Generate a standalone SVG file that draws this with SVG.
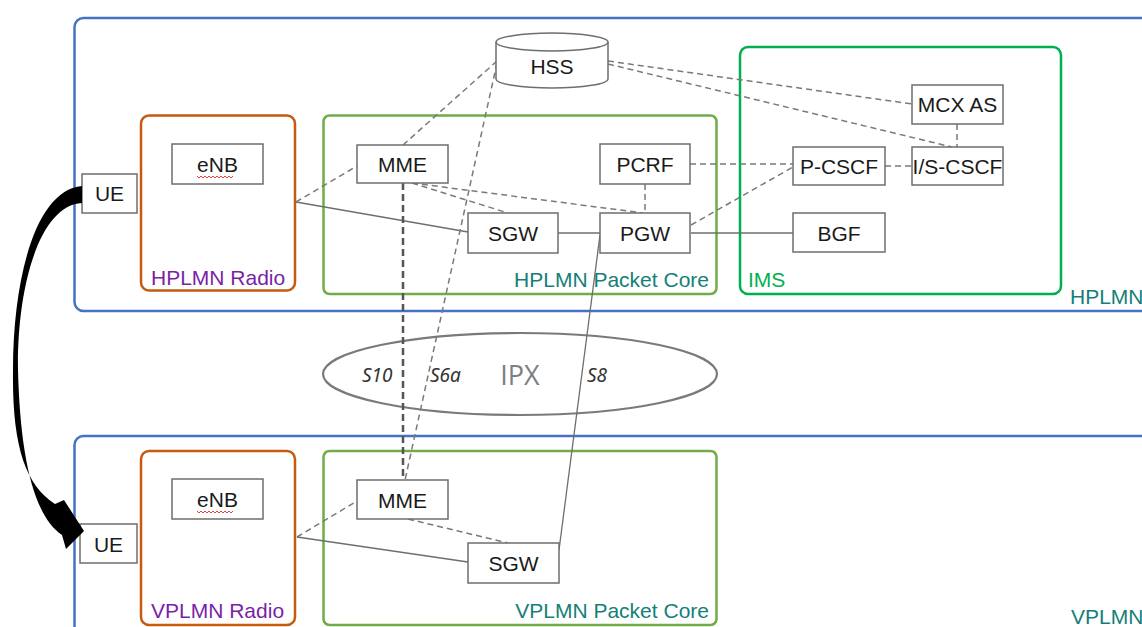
<svg xmlns="http://www.w3.org/2000/svg" width="1142" height="627" viewBox="0 0 1142 627">
<defs>
<style>
.plmn{fill:none;stroke:#4472C4;stroke-width:2.5}
.radio{fill:none;stroke:#C55A11;stroke-width:2.5}
.core{fill:none;stroke:#70AD47;stroke-width:2.5}
.ims{fill:none;stroke:#00B050;stroke-width:2.5}
.box{fill:#fff;stroke:#6e6e6e;stroke-width:1.5}
.t{font-family:"Liberation Sans",Arial,sans-serif;font-size:21px;fill:#1a1a1a;text-anchor:middle}
.gl{font-family:"Liberation Sans",Arial,sans-serif;font-size:21px}
.teal{fill:#148078}
.purple{fill:#7A1FA8}
.itf{font-family:"Noto Sans","Open Sans",sans-serif;font-style:italic;font-size:19px;fill:#333}
.solid{fill:none;stroke:#6e6e6e;stroke-width:1.3}
.dash{fill:none;stroke:#7a7a7a;stroke-width:1.5;stroke-dasharray:6 4}
.dashk{fill:none;stroke:#555;stroke-width:2.5;stroke-dasharray:7 4}
.sq{fill:none;stroke:#E84040;stroke-width:1}
</style>
</defs>
<rect width="1142" height="627" fill="#fff"/>

<g id="hplmn">
<rect class="plmn" x="74.5" y="18" width="1100" height="293" rx="9"/>
<text class="gl teal" x="1070" y="304">HPLMN</text>
</g>
<g id="vplmn">
<rect class="plmn" x="74.5" y="436" width="1100" height="260" rx="9"/>
<text class="gl teal" x="1071" y="624">VPLMN</text>
</g>

<g id="ipx">
<ellipse cx="520" cy="374" rx="197" ry="41" fill="none" stroke="#7a7a7a" stroke-width="2.2"/>
<text x="520" y="385" font-family="'Open Sans','Liberation Sans',sans-serif" font-size="27" fill="#7f7f7f" text-anchor="middle">IPX</text>
</g>

<g id="hplmn-radio">
<rect class="radio" x="141" y="115.5" width="154" height="175" rx="8"/>
<text class="gl purple" x="151" y="285">HPLMN Radio</text>
</g>
<g id="hplmn-core">
<rect class="core" x="323.5" y="115.5" width="393" height="178.5" rx="6"/>
<text class="gl teal" x="709" y="287" text-anchor="end">HPLMN Packet Core</text>
</g>
<g id="ims">
<rect class="ims" x="740" y="47" width="321" height="247" rx="8"/>
<text class="gl" x="748" y="287" fill="#00B050">IMS</text>
</g>
<g id="vplmn-radio">
<rect class="radio" x="141" y="451" width="154" height="174" rx="8"/>
<text class="gl purple" x="151" y="618">VPLMN Radio</text>
</g>
<g id="vplmn-core">
<rect class="core" x="323.5" y="451" width="393" height="174" rx="6"/>
<text class="gl teal" x="709" y="618" text-anchor="end">VPLMN Packet Core</text>
</g>

<g id="connectors">
<!-- HPLMN -->
<line class="solid" x1="296" y1="202" x2="468" y2="232"/>
<line class="dash" x1="296" y1="202" x2="357" y2="166"/>
<line class="dash" x1="403" y1="145" x2="497" y2="61"/>
<line class="dashk" x1="403" y1="183" x2="403" y2="480"/>
<line class="dash" x1="412" y1="183" x2="508" y2="213"/>
<line class="dash" x1="412" y1="183" x2="643" y2="213"/>
<line class="solid" x1="558" y1="233" x2="600" y2="233"/>
<line class="dash" x1="645" y1="184" x2="645" y2="213"/>
<line class="dash" x1="690" y1="164" x2="793" y2="164"/>
<line class="dash" x1="691" y1="225" x2="793" y2="167"/>
<line class="solid" x1="691" y1="233" x2="793" y2="233"/>
<line class="dash" x1="608" y1="61" x2="912" y2="104"/>
<line class="dash" x1="608" y1="64" x2="952" y2="147"/>
<line class="dash" x1="957" y1="124" x2="957" y2="147"/>
<line class="dash" x1="885" y1="166" x2="912" y2="166"/>
<!-- inter-PLMN -->
<line class="dash" x1="497" y1="63" x2="405" y2="480"/>
<line class="solid" x1="600" y1="235" x2="559" y2="550"/>
<!-- VPLMN -->
<line class="dash" x1="297" y1="537" x2="357" y2="501"/>
<line class="solid" x1="297" y1="537" x2="468" y2="562"/>
<line class="dash" x1="408" y1="519" x2="508" y2="543"/>
</g>

<g id="labels">
<text class="itf" x="362" y="382">S10</text>
<text class="itf" x="430" y="382">S6a</text>
<text class="itf" x="587" y="382">S8</text>
</g>

<g id="hss">
<path d="M496,42 L496,79 A56,9 0 0 0 608,79 L608,42" fill="#fff" stroke="#6e6e6e" stroke-width="1.5"/>
<ellipse cx="552" cy="42" rx="56" ry="9" fill="#fff" stroke="#6e6e6e" stroke-width="1.5"/>
<text class="t" x="552" y="74">HSS</text>
</g>

<g id="ue-h"><rect class="box" x="82" y="174" width="55" height="39"/><text class="t" x="109.5" y="201">UE</text></g>
<g id="enb-h"><rect class="box" x="172" y="144" width="91" height="40"/><text class="t" x="217.5" y="172">eNB</text><path class="sq" d="M197,176 l2,2 l2,-2 l2,2 l2,-2 l2,2 l2,-2 l2,2 l2,-2 l2,2 l2,-2 l2,2 l2,-2 l2,2 l2,-2 l2,2 l2,-2 l2,2 l2,-2"/></g>
<g id="mme-h"><rect class="box" x="357" y="145" width="91" height="38"/><text class="t" x="402.5" y="172">MME</text></g>
<g id="sgw-h"><rect class="box" x="468" y="213" width="90" height="40"/><text class="t" x="513" y="241">SGW</text></g>
<g id="pgw-h"><rect class="box" x="600" y="213" width="90" height="40"/><text class="t" x="645" y="241">PGW</text></g>
<g id="pcrf"><rect class="box" x="600" y="144" width="90" height="40"/><text class="t" x="645" y="172">PCRF</text></g>
<g id="pcscf"><rect class="box" x="793" y="147" width="92" height="38"/><text class="t" x="839" y="174">P-CSCF</text></g>
<g id="iscscf"><rect class="box" x="912" y="147" width="91" height="38"/><text class="t" x="957.5" y="174">I/S-CSCF</text></g>
<g id="mcxas"><rect class="box" x="912" y="85" width="91" height="39"/><text class="t" x="957.5" y="112">MCX AS</text></g>
<g id="bgf"><rect class="box" x="793" y="213" width="92" height="39"/><text class="t" x="839" y="241">BGF</text></g>

<g id="ue-v"><rect class="box" x="80" y="524" width="57" height="39"/><text class="t" x="108.5" y="552">UE</text></g>
<g id="enb-v"><rect class="box" x="172" y="479" width="91" height="40"/><text class="t" x="217.5" y="507">eNB</text><path class="sq" d="M197,511 l2,2 l2,-2 l2,2 l2,-2 l2,2 l2,-2 l2,2 l2,-2 l2,2 l2,-2 l2,2 l2,-2 l2,2 l2,-2 l2,2 l2,-2 l2,2 l2,-2"/></g>
<g id="mme-v"><rect class="box" x="357" y="480" width="91" height="39"/><text class="t" x="402.5" y="508">MME</text></g>
<g id="sgw-v"><rect class="box" x="468" y="543" width="91" height="40"/><text class="t" x="513.5" y="571">SGW</text></g>

<g id="handover-arrow">
<path fill="#000" d="M82,186 C35,190 13,280 13,370 C12,445 25,485 55,504 L64,500 L84,531 L66,549 L62,535 C32,515 20,450 18,370 C17,285 40,205 82,203 Z"/>
</g>
</svg>
